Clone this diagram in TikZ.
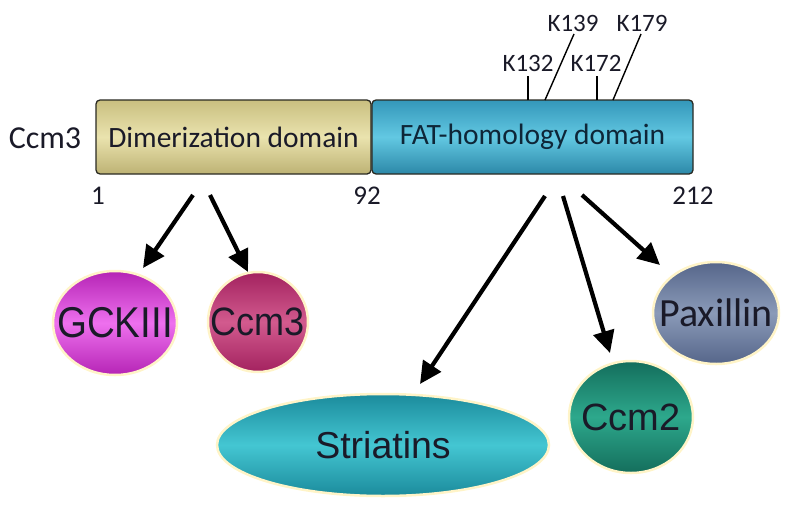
\documentclass[tikz,border=0pt]{standalone}
\usepackage{fontspec}
\setmainfont{Carlito}
\newfontfamily\arialf{Liberation Sans}
\usetikzlibrary{arrows.meta,shapes.geometric,shadings}
\definecolor{khtop}{HTML}{C9BF80}
\definecolor{khmid}{HTML}{EAE3AE}
\definecolor{khbot}{HTML}{BDB274}
\definecolor{fattop}{HTML}{3497BA}
\definecolor{fatmid}{HTML}{62C8E2}
\definecolor{fatbot}{HTML}{2C88A8}
\definecolor{fattxt}{HTML}{0E2638}
\definecolor{barline}{HTML}{2A2A22}
\definecolor{txtdark}{HTML}{1A1A28}
\definecolor{gcktop}{HTML}{B524B5}
\definecolor{gckmid}{HTML}{EE70EE}
\definecolor{ccmtop}{HTML}{A3225F}
\definecolor{ccmmid}{HTML}{D25A8E}
\definecolor{strtop}{HTML}{1B8B9C}
\definecolor{strmid}{HTML}{44C6D2}
\definecolor{cc2top}{HTML}{146E5C}
\definecolor{cc2mid}{HTML}{2DA88C}
\definecolor{paxtop}{HTML}{56668A}
\definecolor{paxmid}{HTML}{8A9AB8}
\definecolor{glow}{HTML}{FFF4C8}
\tikzset{
  x=1pt, y=-1pt,
  dombox/.style={draw=barline, line width=1.3pt, rounded corners=4pt, inner sep=0pt,
    minimum height=74pt, text=txtdark, font=\fontsize{29.5}{32}\selectfont},
  bubble/.style={ellipse, draw=glow, line width=2.5pt, inner sep=0pt},
  lbl/.style={inner sep=0pt, text=txtdark},
  bigarrow/.style={line width=4.2pt, -{Triangle[length=22pt,width=21pt]}},
  tick/.style={line width=1.4pt, black}
}
\begin{document}
\begin{tikzpicture}
\useasboundingbox (0,0) rectangle (800,506);
% domain bar
\node[dombox, minimum width=275pt, top color=khtop, bottom color=khbot, middle color=khmid] (dim) at (233.5,137) {Dimerization domain};
\node[dombox, minimum width=321pt, top color=fattop, bottom color=fatbot, middle color=fatmid, text=fattxt] (fat) at (532.5,137) {FAT-homology domain};
\node[lbl, font=\fontsize{32}{36}\selectfont] (name) at (45,138) {Ccm3};
\node[lbl, font=\fontsize{27}{30}\selectfont] (n1) at (98,196) {1};
\node[lbl, font=\fontsize{27}{30}\selectfont] (n92) at (367,196) {92};
\node[lbl, font=\fontsize{27}{30}\selectfont] (n212) at (693,196) {212};
% lysine sites
\node[lbl, font=\fontsize{25}{28}\selectfont] (k132) at (528,63) {K132};
\node[lbl, font=\fontsize{25}{28}\selectfont] (k172) at (596,63) {K172};
\node[lbl, font=\fontsize{25}{28}\selectfont] (k139) at (573,23) {K139};
\node[lbl, font=\fontsize{25}{28}\selectfont] (k179) at (642,23) {K179};
\coordinate (p132) at (528,100);
\coordinate (p172) at (597,100);
\coordinate (p139) at (545,100);
\coordinate (p179) at (613,100);
\coordinate (q132) at (528,76);
\coordinate (q172) at (597,76);
\coordinate (q139) at (574,34);
\coordinate (q179) at (641,34);
\draw[tick] (p132) -- (q132);
\draw[tick] (p172) -- (q172);
\draw[tick] (p139) -- (q139);
\draw[tick] (p179) -- (q179);
% interactors
\node[bubble, minimum width=124pt, minimum height=104pt, top color=gcktop, bottom color=gcktop, middle color=gckmid] (gck) at (115,323) {};
\node[lbl] (gcktxt) at (gck.center) {\arialf\scalebox{1}[1.12]{\fontsize{38.5}{42}\selectfont GCKIII}};
\node[bubble, minimum width=100pt, minimum height=100pt, top color=ccmtop, bottom color=ccmtop, middle color=ccmmid] (ccm) at (258,322) {};
\node[lbl] (ccmtxt) at (ccm.center) {\arialf\scalebox{1}[1.1]{\fontsize{36}{40}\selectfont Ccm3}};
\node[bubble, minimum width=332pt, minimum height=102pt, top color=strtop, bottom color=strtop, middle color=strmid] (str) at (383,445) {};
\node[lbl] (strtxt) at (str.center) {\arialf\fontsize{37.5}{40}\selectfont Striatins};
\node[bubble, minimum width=124pt, minimum height=112pt, top color=cc2top, bottom color=cc2top, middle color=cc2mid] (cc2) at (631,417) {};
\node[lbl] (cc2txt) at (cc2.center) {\arialf\fontsize{38}{40}\selectfont Ccm2};
\node[bubble, minimum width=126pt, minimum height=102pt, top color=paxtop, bottom color=paxtop, middle color=paxmid] (pax) at (716,313) {};
\node[lbl] (paxtxt) at (pax.center) {\fontsize{40}{44}\selectfont Paxillin};
% arrows
\coordinate (s1) at (193,195);
\coordinate (s2) at (210,195);
\coordinate (s3) at (545,196);
\coordinate (s4) at (563,196);
\coordinate (s5) at (582,195);
\coordinate (t1) at (143,268);
\coordinate (t2) at (248,272);
\coordinate (t3) at (420,384);
\coordinate (t4) at (610,353);
\coordinate (t5) at (660,265);
\draw[bigarrow] (s1) -- (t1);
\draw[bigarrow] (s2) -- (t2);
\draw[bigarrow] (s3) -- (t3);
\draw[bigarrow] (s4) -- (t4);
\draw[bigarrow] (s5) -- (t5);
\end{tikzpicture}
\end{document}
